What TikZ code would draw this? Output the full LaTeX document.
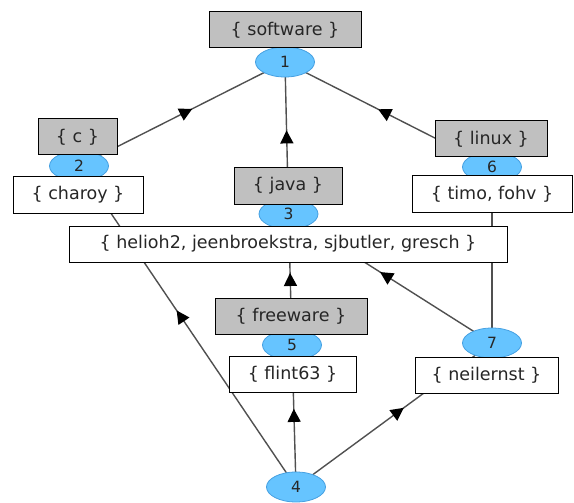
\documentclass[tikz,border=0pt]{standalone}
\usepackage{fontspec}
\setmainfont{DejaVu Sans}
\usetikzlibrary{arrows.meta,decorations.markings,shapes.geometric,backgrounds}
\definecolor{boxgray}{RGB}{192,192,192}
\definecolor{cblue}{RGB}{102,196,255}
\definecolor{cblueborder}{RGB}{70,160,225}
\definecolor{linegray}{RGB}{80,80,80}
\begin{document}
\begin{tikzpicture}[x=1pt,y=-1pt,
  lbox/.style={draw=black, line width=1pt, minimum height=36pt, inner sep=0pt, font=\fontsize{17.5}{19}\selectfont, text=black!85},
  gbox/.style={lbox, fill=boxgray},
  wbox/.style={lbox, fill=white},
  cnode/.style={ellipse, fill=cblue, draw=cblueborder, line width=0.8pt, minimum width=59pt, minimum height=30pt, inner sep=0pt, font=\fontsize{15.5}{16}\selectfont, text=black!85},
  lline/.style={draw=linegray, line width=1.4pt, postaction={decorate}, decoration={markings, mark=at position 0.55 with {\arrow{Triangle[length=13pt,width=13pt,color=black]}}}}
]
\useasboundingbox (0,0) rectangle (574,503);
% concept ellipses
\node[cnode] (n1) at (285,62) {1};
\node[cnode] (n2) at (79,166) {2};
\node[cnode] (n3) at (288.5,214) {3};
\node[cnode] (n4) at (296,487) {4};
\node[cnode] (n5) at (292,345) {5};
\node[cnode] (n6) at (492,167) {6};
\node[cnode] (n7) at (492,343) {7};
% labels
\node[gbox, minimum width=152pt] (software) at (285,30) {\{ software \}};
\node[gbox, minimum width=79pt] (c) at (77.5,137) {\{ c \}};
\node[wbox, minimum width=130pt] (charoy) at (78,195) {\{ charoy \}};
\node[gbox, minimum width=112pt] (linux) at (491,139) {\{ linux \}};
\node[wbox, minimum width=160pt] (timo) at (492,194) {\{ timo, fohv \}};
\node[gbox, minimum width=108pt] (java) at (288,186) {\{ java \}};
\node[wbox, minimum width=438pt] (big) at (288,244) {\{ helioh2, jeenbroekstra, sjbutler, gresch \}};
\node[gbox, minimum width=152pt] (freeware) at (291,316) {\{ freeware \}};
\node[wbox, minimum width=127pt] (flint) at (292.5,374) {\{ flint63 \}};
\node[wbox, minimum width=143pt] (neil) at (486.5,375) {\{ neilernst \}};
% edges
\begin{scope}[on background layer]
\draw[lline] (n4.center) -- (n2.center);
\draw[lline] (n4.center) -- (n5.center);
\draw[lline] (n4.center) -- (n7.center);
\draw[lline] (n2.center) -- (n1.center);
\draw[lline] (n3.center) -- (n1.center);
\draw[lline] (n6.center) -- (n1.center);
\draw[lline] (n5.center) -- (n3.center);
\draw[lline] (n7.center) -- (n3.center);
\draw[lline] (n7.center) -- (n6.center);
\end{scope}
\end{tikzpicture}
\end{document}
